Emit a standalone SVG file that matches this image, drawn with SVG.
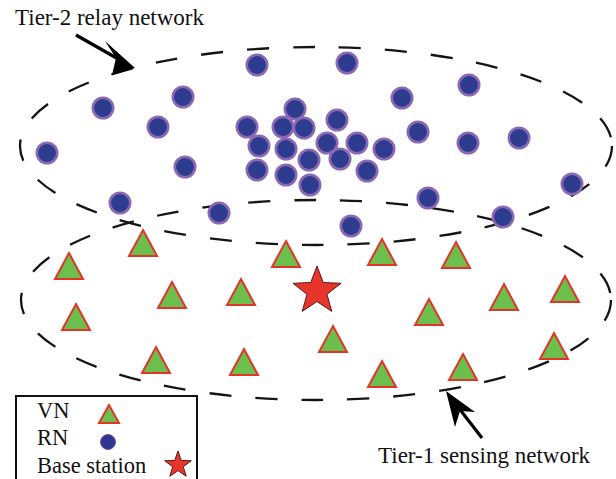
<svg xmlns="http://www.w3.org/2000/svg" width="616" height="479" viewBox="0 0 616 479">
  <defs>
    <style>
      .zone { fill: none; stroke: #141414; stroke-width: 2.3; stroke-dasharray: 22 24; }
      .rn { fill: #2d3c8e; stroke: #8c68b4; stroke-width: 2.6; }
      .vn { fill: #6cbf4d; stroke: #e3342a; stroke-width: 2; stroke-linejoin: miter; }
      .bs { fill: #e8352c; stroke: #5a1a1a; stroke-width: 1; stroke-linejoin: miter; }
      .lbl { font-family: "Liberation Serif", "Times New Roman", serif; fill: #111; }
      .arrow-line { stroke: #000; stroke-width: 3.2; fill: none; }
      .arrow-head { fill: #000; }
    </style>
    <circle id="rn" r="10.2" class="rn"/>
    <polygon id="vn" points="0,-13 14,13 -14,13" class="vn"/>
  </defs>

  <rect width="616" height="479" fill="#ffffff"/>

  <!-- network zones -->
  <g id="zones">
    <ellipse id="tier2-zone" class="zone" cx="316" cy="146" rx="296" ry="99"/>
    <ellipse id="tier1-zone" class="zone" cx="316" cy="300" rx="295" ry="100"/>
  </g>

  <!-- relay nodes -->
  <g id="relay-nodes">
    <use href="#rn" x="257" y="65"/>
    <use href="#rn" x="347" y="63"/>
    <use href="#rn" x="469" y="85"/>
    <use href="#rn" x="103" y="108"/>
    <use href="#rn" x="183" y="97"/>
    <use href="#rn" x="402" y="98"/>
    <use href="#rn" x="158" y="127"/>
    <use href="#rn" x="47" y="153"/>
    <use href="#rn" x="185" y="167"/>
    <use href="#rn" x="120" y="203"/>
    <use href="#rn" x="219" y="213"/>
    <use href="#rn" x="418" y="132"/>
    <use href="#rn" x="468" y="143"/>
    <use href="#rn" x="519" y="138"/>
    <use href="#rn" x="572" y="184"/>
    <use href="#rn" x="428" y="198"/>
    <use href="#rn" x="503" y="217"/>
    <use href="#rn" x="351" y="226"/>
    <!-- dense cluster -->
    <use href="#rn" x="295" y="109"/>
    <use href="#rn" x="247" y="127"/>
    <use href="#rn" x="283" y="127"/>
    <use href="#rn" x="304" y="128"/>
    <use href="#rn" x="337" y="120"/>
    <use href="#rn" x="259" y="146"/>
    <use href="#rn" x="286" y="149"/>
    <use href="#rn" x="327" y="143"/>
    <use href="#rn" x="357" y="143"/>
    <use href="#rn" x="384" y="149"/>
    <use href="#rn" x="257" y="170"/>
    <use href="#rn" x="286" y="175"/>
    <use href="#rn" x="309" y="160"/>
    <use href="#rn" x="340" y="159"/>
    <use href="#rn" x="367" y="171"/>
    <use href="#rn" x="310" y="185"/>
  </g>

  <!-- sensing nodes -->
  <g id="sensing-nodes">
    <use href="#vn" x="69" y="266"/>
    <use href="#vn" x="143" y="243"/>
    <use href="#vn" x="286" y="254"/>
    <use href="#vn" x="382" y="252"/>
    <use href="#vn" x="456" y="255"/>
    <use href="#vn" x="172" y="295"/>
    <use href="#vn" x="241" y="292"/>
    <use href="#vn" x="504" y="297"/>
    <use href="#vn" x="565" y="289"/>
    <use href="#vn" x="76" y="317"/>
    <use href="#vn" x="429" y="312"/>
    <use href="#vn" x="333" y="339"/>
    <use href="#vn" x="554" y="346"/>
    <use href="#vn" x="156" y="360"/>
    <use href="#vn" x="244" y="362"/>
    <use href="#vn" x="382" y="374"/>
    <use href="#vn" x="463" y="367"/>
  </g>

  <!-- base station -->
  <g id="base-station">
    <polygon class="bs" points="317,266 323.2,282.5 341,283.3 327,294.3 331.8,311.4 317,301.5 302.2,311.4 307,294.3 293,283.3 310.8,282.5"/>
  </g>

  <!-- callout arrows -->
  <g id="connectors">
    <line class="arrow-line" x1="76" y1="35" x2="120" y2="60"/>
    <polygon class="arrow-head" points="135,68 105,41 116,58 112,75"/>
    <line class="arrow-line" x1="482" y1="438" x2="458" y2="407"/>
    <polygon class="arrow-head" points="446,391 475,412 460,411 455,427"/>
  </g>

  <!-- titles -->
  <g id="tier2-label">
    <text class="lbl" x="15" y="25" font-size="23">Tier-2 relay network</text>
  </g>
  <g id="tier1-label">
    <text class="lbl" x="378" y="463" font-size="23">Tier-1 sensing network</text>
  </g>

  <!-- legend -->
  <g id="legend">
    <rect x="16" y="396" width="181" height="90" fill="#ffffff" stroke="#111" stroke-width="2"/>
    <text class="lbl" x="37" y="418" font-size="22.5">VN</text>
    <text class="lbl" x="37" y="445" font-size="22.5">RN</text>
    <text class="lbl" x="37" y="473" font-size="22.5">Base station</text>
    <polygon class="vn" points="109,405 119,423 99,423"/>
    <circle cx="108" cy="442" r="7.5" fill="#2f3591" stroke="#5e56a8" stroke-width="1"/>
    <polygon class="bs" stroke-width="0.6" points="178,451 181.3,460.5 191.3,460.7 183.3,466.8 186.2,476.3 178,470.6 169.8,476.3 172.7,466.8 164.7,460.7 174.7,460.5"/>
  </g>
</svg>
